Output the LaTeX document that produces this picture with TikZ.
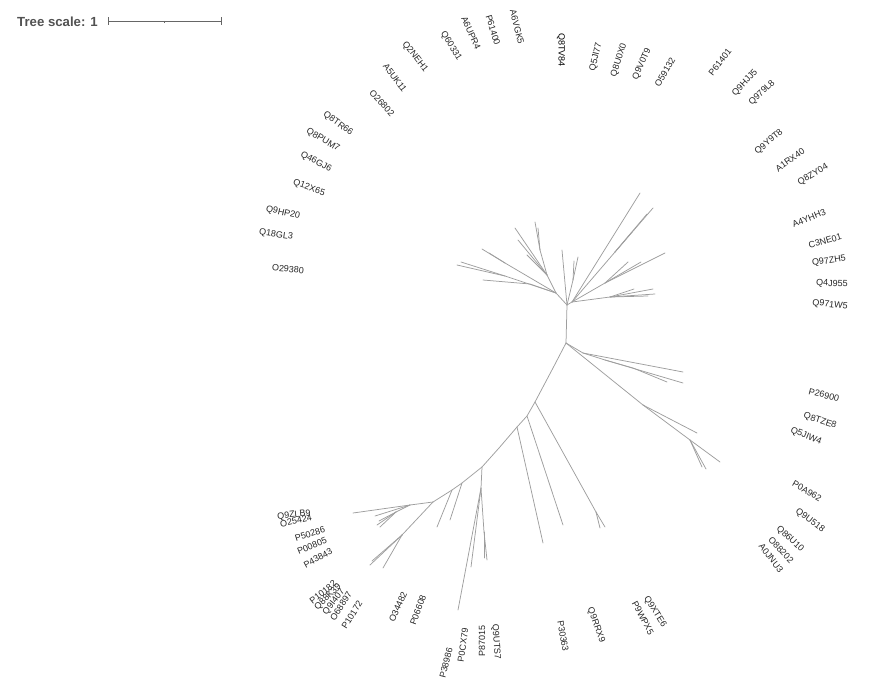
\documentclass[tikz,border=0pt]{standalone}
\usepackage{fontspec}
\setmainfont{Liberation Sans}
\begin{document}
\begin{tikzpicture}[x=1pt,y=-1pt,
  br/.style={draw=black!38,line width=0.75pt,line cap=round,line join=round},
  lbl/.style={font=\fontsize{9}{10}\selectfont,text=black!85,inner sep=0pt},
  sbar/.style={draw=black!60,line width=0.8pt}]
\useasboundingbox (0,0) rectangle (885,690);
% scale
\node[anchor=west,font=\bfseries\fontsize{13.2}{15}\selectfont,text=black!68,inner sep=0pt] (ts) at (17,22) {Tree scale: 1};
\coordinate (s1) at (108,21); \coordinate (s2) at (221,21); \coordinate (sm) at (164,21);
\draw[sbar] (s1) -- (s2);
\draw[sbar] ([yshift=-4pt]s1) -- ([yshift=4pt]s1);
\draw[sbar] ([yshift=-4pt]s2) -- ([yshift=4pt]s2);
\draw[sbar] (sm) -- ([yshift=-2pt]sm);
% ---------- tree coordinates ----------
\coordinate (A) at (567,305); \coordinate (B) at (566,343);
\coordinate (L1) at (556,293); \coordinate (L2) at (530,284); \coordinate (La) at (505,276);
\coordinate (Lb) at (505,263); \coordinate (Lc) at (547,275); \coordinate (Ld) at (540,250);
\coordinate (M1) at (573,280);
\coordinate (R0) at (572,302); \coordinate (Ra) at (615,252); \coordinate (Rb) at (605,283); \coordinate (Rc) at (610,297);
\coordinate (R1) at (583,353); \coordinate (R2) at (605,360); \coordinate (R2a) at (633,368);
\coordinate (R3) at (643,405); \coordinate (R4) at (690,440);
\coordinate (Ba) at (553,368); \coordinate (C1) at (535,402); \coordinate (C2) at (527,416); \coordinate (C3) at (517,427);
\coordinate (Cb) at (499,448); \coordinate (C4) at (482,467); \coordinate (C5) at (462,483); \coordinate (C6) at (452,490); \coordinate (C7) at (433,502);
\coordinate (Ca) at (596,512); \coordinate (D1) at (481,488); \coordinate (D3) at (484,532);
\coordinate (E1) at (410,505); \coordinate (E2) at (396,512); \coordinate (F1) at (402,535);
% tips
\coordinate (t1) at (483,280); \coordinate (t2) at (457,265); \coordinate (t3) at (461,262);
\coordinate (t4) at (482,249); \coordinate (t5) at (489,253);
\coordinate (t6) at (515,228); \coordinate (t7) at (518,240); \coordinate (t8) at (535,222); \coordinate (t9) at (538,228); \coordinate (t10) at (527,255);
\coordinate (t11) at (562,250); \coordinate (t12) at (578,257); \coordinate (t13) at (574,261);
\coordinate (t14) at (640,193); \coordinate (t15) at (653,208); \coordinate (t16) at (647,214); \coordinate (t17) at (632,232);
\coordinate (t18) at (665,253); \coordinate (t19) at (628,262); \coordinate (t20) at (641,262);
\coordinate (t21) at (655,294); \coordinate (t22) at (653,289); \coordinate (t23) at (634,289); \coordinate (t24) at (648,296);
\coordinate (t25) at (683,372); \coordinate (t26) at (683,383); \coordinate (t27) at (667,382);
\coordinate (t28) at (697,433); \coordinate (t29) at (720,462); \coordinate (t30) at (706,469); \coordinate (t31) at (702,467);
\coordinate (t32) at (600,528); \coordinate (t33) at (605,527); \coordinate (t34) at (563,525); \coordinate (t35) at (543,543);
\coordinate (t36) at (458,610); \coordinate (t37) at (471,567); \coordinate (t38) at (487,560); \coordinate (t39) at (484,558);
\coordinate (t40) at (450,520); \coordinate (t41) at (437,527);
\coordinate (t42) at (353,513); \coordinate (t43) at (375,516); \coordinate (t44) at (377,525); \coordinate (t45) at (380,527); \coordinate (t46) at (379,521);
\coordinate (t47) at (370,565); \coordinate (t48) at (372,561); \coordinate (t49) at (383,568);
% ---------- branches ----------
\draw[br] (A) -- (B);
\draw[br] (A) -- (L1); \draw[br] (L1) -- (L2) -- (t1);
\draw[br] (L1) -- (La); \draw[br] (La) -- (t2); \draw[br] (La) -- (t3);
\draw[br] (L1) -- (Lb); \draw[br] (Lb) -- (t4); \draw[br] (Lb) -- (t5);
\draw[br] (L1) -- (Lc); \draw[br] (Lc) -- (t6); \draw[br] (Lc) -- (t7); \draw[br] (Lc) -- (Ld);
\draw[br] (Ld) -- (t8); \draw[br] (Ld) -- (t9); \draw[br] (Lc) -- (t10);
\draw[br] (A) -- (t11); \draw[br] (A) -- (M1); \draw[br] (M1) -- (t12); \draw[br] (M1) -- (t13);
\draw[br] (A) -- (R0); \draw[br] (R0) -- (t14);
\draw[br] (R0) -- (Ra); \draw[br] (Ra) -- (t15); \draw[br] (Ra) -- (t16); \draw[br] (Ra) -- (t17);
\draw[br] (R0) -- (Rb); \draw[br] (Rb) -- (t18); \draw[br] (Rb) -- (t19); \draw[br] (Rb) -- (t20);
\draw[br] (R0) -- (Rc); \draw[br] (Rc) -- (t21); \draw[br] (Rc) -- (t22); \draw[br] (Rc) -- (t23); \draw[br] (Rc) -- (t24);
\draw[br] (B) -- (R1); \draw[br] (R1) -- (t25); \draw[br] (R1) -- (R2); \draw[br] (R2) -- (t26); \draw[br] (R2) -- (R2a) -- (t27);
\draw[br] (B) -- (R3); \draw[br] (R3) -- (t28); \draw[br] (R3) -- (R4); \draw[br] (R4) -- (t29); \draw[br] (R4) -- (t30); \draw[br] (R4) -- (t31);
\draw[br] (B) -- (Ba) -- (C1) -- (C2) -- (C3) -- (Cb) -- (C4) -- (C5) -- (C6) -- (C7);
\draw[br] (C1) -- (Ca); \draw[br] (Ca) -- (t32); \draw[br] (Ca) -- (t33);
\draw[br] (C2) -- (t34); \draw[br] (C3) -- (t35);
\draw[br] (C4) -- (D1); \draw[br] (D1) -- (t36); \draw[br] (D1) -- (t37); \draw[br] (D1) -- (D3); \draw[br] (D3) -- (t38); \draw[br] (D3) -- (t39);
\draw[br] (C5) -- (t40); \draw[br] (C6) -- (t41);
\draw[br] (C7) -- (E1); \draw[br] (E1) -- (t42); \draw[br] (E1) -- (t43); \draw[br] (E1) -- (E2);
\draw[br] (E2) -- (t44); \draw[br] (E2) -- (t45); \draw[br] (E2) -- (t46);
\draw[br] (C7) -- (F1); \draw[br] (F1) -- (t47); \draw[br] (F1) -- (t48); \draw[br] (F1) -- (t49);
% ---------- labels ----------
\node[lbl,rotate=-48] (n1) at (382,103) {O26802};
\node[lbl,rotate=-53] (n2) at (395,78) {A5UK11};
\node[lbl,rotate=-52] (n3) at (415,57) {Q2NEH1};
\node[lbl,rotate=-58] (n4) at (451,46) {Q60331};
\node[lbl,rotate=-66] (n5) at (471,33) {A6UPR4};
\node[lbl,rotate=-73] (n6) at (493,30) {P61400};
\node[lbl,rotate=-76] (n7) at (517,27) {A6VGK5};
\node[lbl,rotate=-90,text=black] (n8) at (561,50) {Q8TV84};
\node[lbl,rotate=77] (n9) at (596,57) {Q5JI77};
\node[lbl,rotate=72] (n10) at (619,60) {Q8U0X0};
\node[lbl,rotate=66] (n11) at (642,64) {Q9V0T9};
\node[lbl,rotate=60] (n12) at (665,72) {O59132};
\node[lbl,rotate=52] (n13) at (720,62) {P61401};
\node[lbl,rotate=47] (n14) at (745,83) {Q9HJJ5};
\node[lbl,rotate=44] (n15) at (762,93) {Q979L8};
\node[lbl,rotate=40] (n16) at (769,142) {Q9Y9T8};
\node[lbl,rotate=36] (n17) at (790,160) {A1RX40};
\node[lbl,rotate=31] (n18) at (813,175) {Q8ZY04};
\node[lbl,rotate=22] (n19) at (809,218) {A4YHH3};
\node[lbl,rotate=16] (n20) at (825,241) {C3NE01};
\node[lbl,rotate=9] (n21) at (829,261) {Q97ZH5};
\node[lbl,rotate=-2] (n22) at (832,284) {Q4J955};
\node[lbl,rotate=-7] (n23) at (830,305) {Q971W5};
\node[lbl,rotate=-14] (n24) at (824,395) {P26900};
\node[lbl,rotate=-18] (n25) at (820,421) {Q8TZE8};
\node[lbl,rotate=-22] (n26) at (806,436) {Q5JIW4};
\node[lbl,rotate=-30] (n27) at (807,491) {P0A962};
\node[lbl,rotate=-37] (n28) at (810,521) {Q9U518};
\node[lbl,rotate=-43] (n29) at (790,539) {Q86U10};
\node[lbl,rotate=-47] (n30) at (781,550) {O88202};
\node[lbl,rotate=-52] (n31) at (771,558) {A0JNU3};
\node[lbl,rotate=-58] (n32) at (655,612) {Q9XTE6};
\node[lbl,rotate=-62] (n33) at (643,618) {P9WPX5};
\node[lbl,rotate=-70] (n34) at (596,625) {Q9RRX9};
\node[lbl,rotate=-80] (n35) at (563,636) {P30363};
\node[lbl,rotate=-86] (n36) at (496,642) {Q9UTS7};
\node[lbl,rotate=90] (n37) at (482,641) {P87015};
\node[lbl,rotate=82] (n38) at (463,645) {P0CX79};
\node[lbl,rotate=76] (n39) at (446,663) {P38986};
\node[lbl,rotate=70] (n40) at (418,610) {P06608};
\node[lbl,rotate=66] (n41) at (398,607) {O34482};
\node[lbl,rotate=58] (n42) at (352,615) {P10172};
\node[lbl,rotate=57] (n43) at (341,606) {O68897};
\node[lbl,rotate=52] (n44) at (334,602) {Q9I407};
\node[lbl,rotate=45] (n45) at (328,597) {Q88K39};
\node[lbl,rotate=38] (n46) at (323,592) {P10182};
\node[lbl,rotate=28] (n47) at (318,558) {P43843};
\node[lbl,rotate=22] (n48) at (312,546) {P00805};
\node[lbl,rotate=17] (n49) at (310,534) {P50286};
\node[lbl,rotate=12] (n50) at (296,521) {O25424};
\node[lbl,rotate=6] (n51) at (294,515) {Q9ZLB9};
\node[lbl,rotate=-5] (n52) at (288,269) {O29380};
\node[lbl,rotate=-8] (n53) at (276,235) {Q18GL3};
\node[lbl,rotate=-13] (n54) at (283,213) {Q9HP20};
\node[lbl,rotate=-20] (n55) at (309,188) {Q12X65};
\node[lbl,rotate=-27] (n56) at (316,162) {Q46GJ6};
\node[lbl,rotate=-31] (n57) at (323,140) {Q8PUM7};
\node[lbl,rotate=-36] (n58) at (338,124) {Q8TR66};
\end{tikzpicture}
\end{document}
